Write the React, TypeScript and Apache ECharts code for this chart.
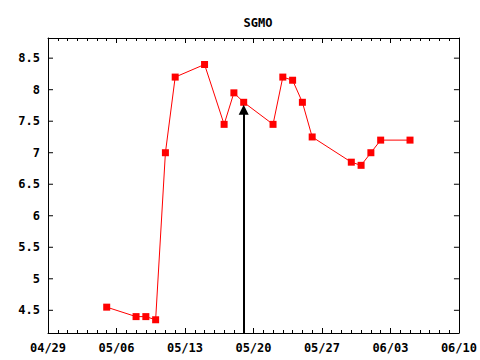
import React, { useEffect, useRef } from "react";
import * as echarts from "echarts";

const title = "SGMO";
const dates = [
  "2010-05-05", "2010-05-08", "2010-05-09", "2010-05-10", "2010-05-11",
  "2010-05-12", "2010-05-15", "2010-05-17", "2010-05-18", "2010-05-19",
  "2010-05-22", "2010-05-23", "2010-05-24", "2010-05-25", "2010-05-26",
  "2010-05-30", "2010-05-31", "2010-06-01", "2010-06-02", "2010-06-05",
];
const values = [
  4.55, 4.4, 4.4, 4.35, 7.0,
  8.2, 8.4, 7.45, 7.95, 7.8,
  7.45, 8.2, 8.15, 7.8, 7.25,
  6.85, 6.8, 7.0, 7.2, 7.2,
];
const yTicks = [4.5, 5, 5.5, 6, 6.5, 7, 7.5, 8, 8.5];
const arrowDate = "2010-05-19";
const arrowTop = 7.68;
const xMinDate = "2010-04-29";
const xMaxDate = "2010-06-10";
const yMin = 4.14;
const yMax = 8.82;

const DAY = 86400000;
const ts = (s: string) => Date.parse(s + "T00:00:00Z");
const pad = (n: number) => (n < 10 ? "0" + n : "" + n);
const fmtDate = (v: number) => {
  const d = new Date(v);
  return pad(d.getUTCMonth() + 1) + "/" + pad(d.getUTCDate());
};

const FONT = "DejaVu Sans Mono";

export default function App() {
  const ref = useRef<HTMLDivElement>(null);
  useEffect(() => {
    if (!ref.current) return;
    const chart = echarts.init(ref.current, undefined, { renderer: "svg" });
    const data = dates.map((d, i) => [ts(d), values[i]]);
    const xMin = ts(xMinDate);
    const xMax = ts(xMaxDate);
    const axisLine = { show: true, lineStyle: { color: "#000", width: 1 } };
    const xCommon = {
      type: "value" as const,
      min: xMin,
      max: xMax,
      interval: 7 * DAY,
      axisLine,
      axisTick: { show: true, inside: true, length: 5, lineStyle: { color: "#000" } },
      minorTick: { show: true, splitNumber: 7, length: 3, lineStyle: { color: "#000" } },
      splitLine: { show: false },
      minorSplitLine: { show: false },
    };
    const yCommon = {
      type: "value" as const,
      min: yMin,
      max: yMax,
      axisLine,
      axisTick: { show: false },
      axisLabel: { show: false },
      splitLine: { show: false },
    };
    chart.setOption({
      animation: false,
      backgroundColor: "#fff",
      title: {
        text: title,
        left: 253,
        top: 12,
        textAlign: "center",
        textStyle: { fontFamily: FONT, fontSize: 12, fontWeight: "bold", color: "#000" },
      },
      grid: { left: 48, right: 21, top: 38, bottom: 27 },
      xAxis: [
        {
          ...xCommon,
          position: "bottom",
          axisLabel: {
            show: true,
            margin: 9,
            formatter: (v: number) => fmtDate(v),
            fontFamily: FONT,
            fontSize: 12,
            fontWeight: "bold",
            color: "#000",
          },
        },
        { ...xCommon, position: "top", axisLabel: { show: false } },
      ],
      yAxis: [
        { ...yCommon, position: "left" },
        { ...yCommon, position: "right" },
      ],
      series: [
        {
          type: "custom",
          xAxisIndex: 0,
          yAxisIndex: 0,
          silent: true,
          clip: false,
          data: yTicks.map((v) => [xMin, v]),
          renderItem: (params: any, api: any) => {
            const v = api.value(1);
            const l = api.coord([xMin, v]);
            const r = api.coord([xMax, v]);
            return {
              type: "group",
              children: [
                {
                  type: "line",
                  shape: { x1: l[0], y1: l[1], x2: l[0] + 5, y2: l[1] },
                  style: { stroke: "#000", lineWidth: 1 },
                },
                {
                  type: "line",
                  shape: { x1: r[0] - 5, y1: r[1], x2: r[0], y2: r[1] },
                  style: { stroke: "#000", lineWidth: 1 },
                },
                {
                  type: "text",
                  x: l[0] - 8,
                  y: l[1],
                  style: {
                    text: String(v),
                    fontFamily: FONT,
                    fontSize: 12,
                    fontWeight: "bold",
                    fill: "#000",
                    align: "right",
                    verticalAlign: "middle",
                  },
                },
              ],
            };
          },
        },
        {
          type: "line",
          data,
          xAxisIndex: 0,
          yAxisIndex: 0,
          symbol: "rect",
          symbolSize: 7,
          lineStyle: { color: "#ff0000", width: 1 },
          itemStyle: { color: "#ff0000" },
          z: 3,
          markLine: {
            silent: true,
            symbol: ["none", "triangle"],
            symbolSize: 10,
            label: { show: false },
            lineStyle: { color: "#000", width: 2, type: "solid" },
            itemStyle: { color: "#000" },
            data: [
              [
                { coord: [ts(arrowDate), yMin] },
                { coord: [ts(arrowDate), arrowTop] },
              ],
            ],
          },
        },
      ],
    });
    return () => chart.dispose();
  }, []);
  return <div ref={ref} style={{ width: 480, height: 360, position: "absolute", left: 0, top: 0 }} />;
}
